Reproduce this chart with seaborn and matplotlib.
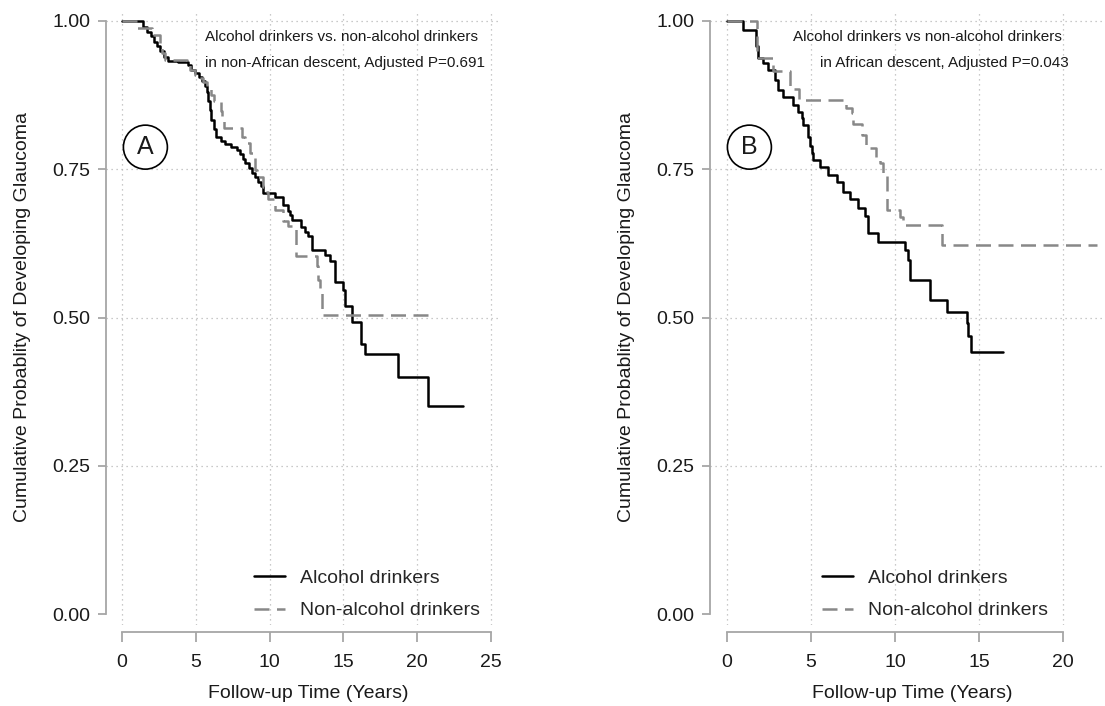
import numpy as np
import pandas as pd
import matplotlib
matplotlib.use("Agg")
import matplotlib.pyplot as plt
from matplotlib.lines import Line2D
import seaborn as sns

# Panel A: non-African descent (time in years, cumulative probability)
a_alc_t = [0, 1.45, 1.7, 2.0, 2.2, 2.4, 2.6, 2.85, 3.1, 3.8, 4.5, 4.7, 4.95, 5.2, 5.4,
           5.6, 5.75, 5.85, 5.95, 6.05, 6.2, 6.4, 6.7, 7.0, 7.4, 7.8, 8.0, 8.2, 8.35,
           8.6, 8.8, 9.0, 9.2, 9.4, 9.57, 10.37, 10.9, 11.27, 11.4, 11.5, 12.15, 12.4,
           12.62, 12.85, 13.75, 14.1, 14.4, 14.45, 15.0, 15.1, 15.55, 16.2, 16.45,
           18.72, 20.75, 23.1]
a_alc_s = [1.0, 0.99, 0.982, 0.975, 0.965, 0.958, 0.95, 0.94, 0.933, 0.93, 0.925, 0.918,
           0.912, 0.905, 0.898, 0.89, 0.88, 0.865, 0.85, 0.833, 0.818, 0.805, 0.798,
           0.792, 0.788, 0.783, 0.775, 0.768, 0.76, 0.752, 0.744, 0.737, 0.729, 0.722,
           0.71, 0.704, 0.69, 0.68, 0.672, 0.664, 0.653, 0.645, 0.637, 0.613, 0.605,
           0.595, 0.578, 0.56, 0.546, 0.52, 0.492, 0.456, 0.438, 0.40, 0.351, 0.351]
a_non_t = [0, 1.0, 2.05, 2.6, 2.7, 2.9, 4.4, 4.6, 4.95, 5.3, 5.5, 5.75, 6.05, 6.2, 6.7,
           6.8, 6.9, 8.1, 8.35, 8.65, 9.0, 9.15, 9.55, 9.7, 9.9, 10.37, 10.93, 11.27,
           11.8, 13.22, 13.3, 13.4, 13.53, 21.1]
a_non_s = [1.0, 0.988, 0.976, 0.96, 0.946, 0.934, 0.925, 0.917, 0.909, 0.903, 0.897,
           0.887, 0.876, 0.865, 0.848, 0.835, 0.819, 0.805, 0.794, 0.777, 0.749, 0.737,
           0.72, 0.712, 0.699, 0.681, 0.662, 0.655, 0.604, 0.586, 0.563, 0.541, 0.504,
           0.504]

# Panel B: African descent
b_alc_t = [0, 0.97, 1.7, 1.85, 2.16, 2.46, 2.86, 3.06, 3.35, 3.95, 4.25, 4.45, 4.54,
           4.84, 4.95, 5.04, 5.14, 5.54, 6.03, 6.53, 6.9, 7.3, 7.82, 8.21, 8.41, 9.0,
           10.6, 10.79, 10.9, 12.08, 13.1, 14.27, 14.37, 14.5, 16.45]
b_alc_s = [1.0, 0.985, 0.957, 0.937, 0.929, 0.917, 0.9, 0.884, 0.871, 0.858, 0.847,
           0.837, 0.825, 0.805, 0.79, 0.777, 0.766, 0.754, 0.74, 0.729, 0.712, 0.699,
           0.684, 0.671, 0.643, 0.628, 0.614, 0.597, 0.564, 0.53, 0.51, 0.49, 0.468,
           0.441, 0.441]
b_non_t = [0, 1.77, 2.76, 3.75, 4.3, 7.1, 7.45, 7.52, 8.02, 8.3, 8.85, 9.1, 9.3, 9.5,
           9.55, 10.3, 10.5, 12.78, 22.0]
b_non_s = [1.0, 0.937, 0.915, 0.886, 0.866, 0.853, 0.844, 0.827, 0.808, 0.785, 0.771,
           0.76, 0.74, 0.698, 0.681, 0.67, 0.656, 0.622, 0.622]

groups = ["Alcohol drinkers", "Non-alcohol drinkers"]
y_ticks = [0.0, 0.25, 0.5, 0.75, 1.0]

sns.set_style("white")
plt.rcParams["font.family"] = ["Liberation Sans", "DejaVu Sans"]

palette = {"Alcohol drinkers": "black", "Non-alcohol drinkers": "#888888"}
dashes = {"Alcohol drinkers": "", "Non-alcohol drinkers": (6, 3)}
spine_col = "#a6a6a6"
txt_col = "#1a1a1a"
lw = 1.8


def make_df(t1, s1, t2, s2):
    d1 = pd.DataFrame({"time": t1, "surv": s1, "group": groups[0]})
    d2 = pd.DataFrame({"time": t2, "surv": s2, "group": groups[1]})
    return pd.concat([d1, d2], ignore_index=True)


def draw_panel(ax, df, xmax_tick, xlim, letter, lines, line_x, line_ha, leg_xy):
    # dotted grid (no line at 0 on the y axis)
    for yv in y_ticks[1:]:
        ax.axhline(yv, color="#b8b8b8", lw=0.9, ls=(0, (1, 3)), zorder=0)
    for xv in range(0, xmax_tick + 1, 5):
        ax.axvline(xv, color="#b8b8b8", lw=0.9, ls=(0, (1, 3)), zorder=0)

    sns.lineplot(data=df, x="time", y="surv", hue="group", style="group",
                 palette=palette, dashes=dashes, estimator=None, sort=True,
                 drawstyle="steps-post", linewidth=lw, legend=False, ax=ax)

    ax.set_xlim(*xlim)
    ax.set_ylim(-0.0185, 1.0185)
    ax.set_xticks(range(0, xmax_tick + 1, 5))
    ax.set_yticks(y_ticks)
    ax.set_yticklabels([f"{v:.2f}" for v in y_ticks])

    for s in ["top", "right"]:
        ax.spines[s].set_visible(False)
    for s in ["left", "bottom"]:
        ax.spines[s].set_color(spine_col)
        ax.spines[s].set_linewidth(1.3)
    ax.spines["bottom"].set_position(("outward", 5))
    ax.spines["bottom"].set_bounds(0, xmax_tick)
    ax.spines["left"].set_bounds(0, 1)

    ax.tick_params(axis="both", direction="out", color=spine_col, width=1.3,
                   labelsize=14, labelcolor=txt_col, bottom=True, left=True)
    ax.tick_params(axis="x", length=7, pad=9)
    ax.tick_params(axis="y", length=6, pad=5)

    ax.set_xlabel("Follow-up Time (Years)", fontsize=14, color=txt_col)
    ax.set_ylabel("Cumulative Probablity of Developing Glaucoma", fontsize=14,
                  color=txt_col)
    ax.xaxis.set_label_coords(0.514, -0.097)
    ax.yaxis.set_label_coords(-0.19, 0.5)

    ax.text(line_x[0], 0.956, lines[0], transform=ax.transAxes, ha=line_ha,
            va="center", fontsize=11, color=txt_col)
    ax.text(line_x[1], 0.914, lines[1], transform=ax.transAxes, ha=line_ha,
            va="center", fontsize=11, color=txt_col)

    ax.text(0.1, 0.777, letter, transform=ax.transAxes, ha="center", va="center",
            fontsize=18, color=txt_col,
            bbox=dict(boxstyle="circle,pad=0.4", fc="white", ec="black", lw=1.2))

    handles = [Line2D([], [], color=palette[g], lw=lw, dashes=dashes[g] or (None, None))
               for g in groups]
    ax.legend(handles, groups, loc="center left", bbox_to_anchor=leg_xy,
              frameon=False, fontsize=14, handlelength=1.6, handletextpad=0.75,
              labelspacing=0.75, borderpad=0, borderaxespad=0)


fig = plt.figure(figsize=(11.05, 7.06), dpi=100)
ax_a = fig.add_axes([106 / 1105, 81 / 706, 394 / 1105, 615 / 706])
ax_b = fig.add_axes([710 / 1105, 81 / 706, 394 / 1105, 615 / 706])

draw_panel(ax_a, make_df(a_alc_t, a_alc_s, a_non_t, a_non_s), 25, (-1.08, 25.6), "A",
           ["Alcohol drinkers vs. non-alcohol drinkers",
            "in non-African descent, Adjusted P=0.691"],
           (0.251, 0.251), "left", ((254 - 106) / 394, (625 - 594.5) / 615))
draw_panel(ax_b, make_df(b_alc_t, b_alc_s, b_non_t, b_non_s), 20, (-1.01, 22.44), "B",
           ["Alcohol drinkers vs non-alcohol drinkers",
            "in African descent, Adjusted P=0.043"],
           (0.553, 0.594), "center", ((822 - 710) / 394, (625 - 594.5) / 615))

fig.savefig("out.png", dpi=100)
